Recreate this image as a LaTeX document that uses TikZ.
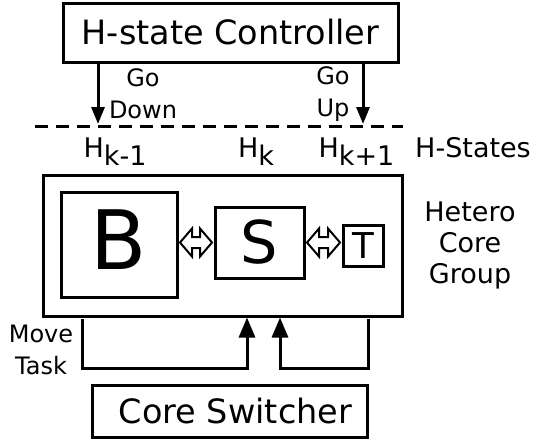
\documentclass[tikz,border=0pt]{standalone}
\usepackage{fontspec}
\setmainfont{DejaVu Sans}
\usetikzlibrary{arrows.meta, positioning, calc}

\begin{document}
\begin{tikzpicture}[
    x=0.5pt, y=-0.5pt,
    >={Triangle[length=8.5pt, width=6.5pt]},
    title box/.style={draw, line width=1.5pt, inner sep=0pt,
        font=\fontsize{16.75}{20}\selectfont},
    core box/.style={draw, line width=1.5pt, inner sep=0pt},
    state label/.style={font=\fontsize{13.5}{16}\selectfont, inner sep=0pt,
        anchor=base},
    side label/.style={font=\fontsize{12}{16}\selectfont, align=center,
        inner sep=0pt},
    group label/.style={font=\fontsize{13.5}{15.5}\selectfont, align=center,
        inner sep=0pt},
    transition/.style={line width=1.5pt, ->},
    feed/.style={line width=1.5pt, -{Triangle[length=10pt, width=8pt]}},
    swap/.style={line width=1pt, line join=miter, fill=white},
    state line/.style={line width=1.5pt, dash pattern=on 6.5pt off 4pt},
]
\useasboundingbox (0,0) rectangle (533,439);

% hollow two-way arrow between two points on one row
\def\swaparrow#1#2{%
  \draw[swap] let \p1=(#1), \p2=(#2) in
    (\x1+0.75pt,\y1) -- (\x1+6.75pt,\y1+7pt) -- (\x1+6.75pt,\y1+2.75pt)
    -- (\x2-6.75pt,\y1+2.75pt) -- (\x2-6.75pt,\y1+7pt) -- (\x2-0.75pt,\y1)
    -- (\x2-6.75pt,\y1-7pt) -- (\x2-6.75pt,\y1-2.75pt)
    -- (\x1+6.75pt,\y1-2.75pt) -- (\x1+6.75pt,\y1-7pt) -- cycle;}

% ══════════════════════════════════════════════════════════════════════
%  CONTROLLER and H-state switching
% ══════════════════════════════════════════════════════════════════════
\node[title box, minimum width=167.5pt, minimum height=29.5pt] (ctrl)
    at (230.5,32.5) {H-state Controller};

\coordinate (downEnd) at (98,124);
\coordinate (upEnd)   at (363,124);
\draw[transition] (ctrl.south -| downEnd) -- (downEnd);
\draw[transition] (ctrl.south -| upEnd) -- (upEnd);
\node[side label] (goDown) at (143,94) {Go\\Down};
\node[side label] (goUp)   at (333,94) {Go\\Up};

\coordinate (stateL) at (35,126);
\coordinate (stateR) at (403,126);
\draw[state line] (stateL) -- (stateR);

% ── H-states ──────────────────────────────────────────────────────────
\node[state label] (hPrev) at (115,157)   {H\raisebox{-4pt}{k-1}};
\node[state label] (hCur)  at (256,157)   {H\raisebox{-4pt}{k}};
\node[state label] (hNext) at (356.5,157) {H\raisebox{-4pt}{k+1}};
\node[state label] (hName) at (473,157)   {H-States};

% ══════════════════════════════════════════════════════════════════════
%  HETERO CORE GROUP
% ══════════════════════════════════════════════════════════════════════
\node[core box, minimum width=179.5pt, minimum height=70.5pt] (group)
    at (222.5,245.5) {};
\node[core box, minimum width=58pt, minimum height=52.5pt, text depth=5pt,
    font=\fontsize{41}{41}\selectfont] (big) at (119,244.5) {B};
\node[core box, minimum width=44.5pt, minimum height=35.5pt,
    font=\fontsize{29.5}{30}\selectfont] (small) at (259.5,242.5) {S};
\node[core box, minimum width=20pt, minimum height=20.5pt,
    font=\fontsize{17.8}{18}\selectfont] (tiny) at (363,245.5) {T};

\swaparrow{small.west -| big.east}{small.west}
\swaparrow{small.east}{small.east -| tiny.west}

\node[group label] (groupName) at (470,245) {Hetero\\Core\\Group};

% ══════════════════════════════════════════════════════════════════════
%  CORE SWITCHER and task moves
% ══════════════════════════════════════════════════════════════════════
\node[title box, minimum width=137.5pt, minimum height=26pt] (switcher)
    at (229.5,411) {\hspace*{6pt}Core Switcher};

\coordinate (moveStart) at (82,319);
\coordinate (moveEnd)   at (247,316);
\coordinate (backStart) at (368,319);
\coordinate (backEnd)   at (280,316);
\draw[feed] (moveStart) -- ++(0,49) -| (group.south -| moveEnd);
\draw[feed] (backStart) -- ++(0,49) -| (group.south -| backEnd);
\node[side label] (moveTask) at (41,350) {Move\\Task};

\end{tikzpicture}
\end{document}
